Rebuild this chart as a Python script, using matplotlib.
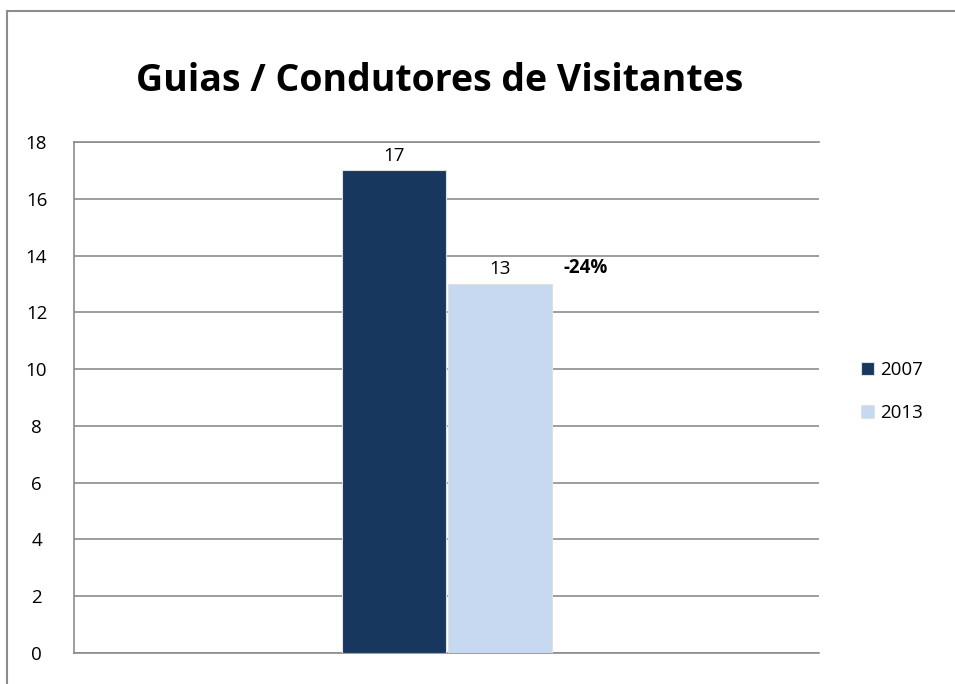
import numpy as np
import matplotlib
matplotlib.use('Agg')
from matplotlib import pyplot as plt
from matplotlib.patches import Rectangle

# dados do grafico
titulo = 'Guias / Condutores de Visitantes'
anos = ['2007', '2013']
valores = [17, 13]
cores = ['#17375E', '#C6D9F1']
variacao = '-24%'
yticks = list(range(0, 19, 2))

plt.rcParams['font.family'] = ['Open Sans', 'DejaVu Sans']

fig = plt.figure(figsize=(9.55, 6.84), dpi=100)
fig.patch.set_facecolor('white')

# borda externa do grafico (so esquerda e topo aparecem)
fig.patches.append(Rectangle((7/955, -0.1), 1.2, 1.1 - 11/684, transform=fig.transFigure,
                             fill=False, edgecolor='#8C8C8C', linewidth=1.5, zorder=0))

ax = fig.add_axes([74/955, 1 - 653/684, (819-74)/955, (653-142)/684])

largura = 0.14
offsets = [-0.0705, 0.0715]
for i in range(len(anos)):
    ax.bar(offsets[i], valores[i], width=largura, color=cores[i],
           edgecolor='#E0E0E0', linewidth=0.8, label=anos[i], zorder=3)
    ax.text(offsets[i], valores[i] + 0.2, str(valores[i]), ha='center', va='bottom',
            fontsize=13.5, color='black', zorder=4)

# variacao percentual
ax.text(offsets[1] + 0.115, valores[1] + 0.2, variacao, ha='center', va='bottom',
        fontsize=13.5, fontweight='bold', color='black')

ax.set_xlim(-0.5, 0.5)
ax.set_ylim(0, 18)
ax.set_yticks(yticks)
ax.set_xticks([])
ax.tick_params(axis='y', length=0, labelsize=13.5, pad=27)
for lbl in ax.get_yticklabels():
    lbl.set_horizontalalignment('center')
ax.yaxis.grid(True, color='#8C8C8C', linewidth=1.2)
ax.set_axisbelow(True)
for s in ['right']:
    ax.spines[s].set_visible(False)
for s in ['left', 'top', 'bottom']:
    ax.spines[s].set_color('#8C8C8C')
    ax.spines[s].set_linewidth(1.2)

fig.text(440/955, 1 - 81/684, titulo, ha='center', va='center',
         fontsize=27, fontweight='bold', color='black')

leg = ax.legend(loc='center left', bbox_to_anchor=(1.034, 0.512), frameon=False,
                fontsize=13.5, handlelength=0.7, handleheight=0.7, labelspacing=1.35,
                handletextpad=0.3)

fig.savefig('out.png', dpi=100)
